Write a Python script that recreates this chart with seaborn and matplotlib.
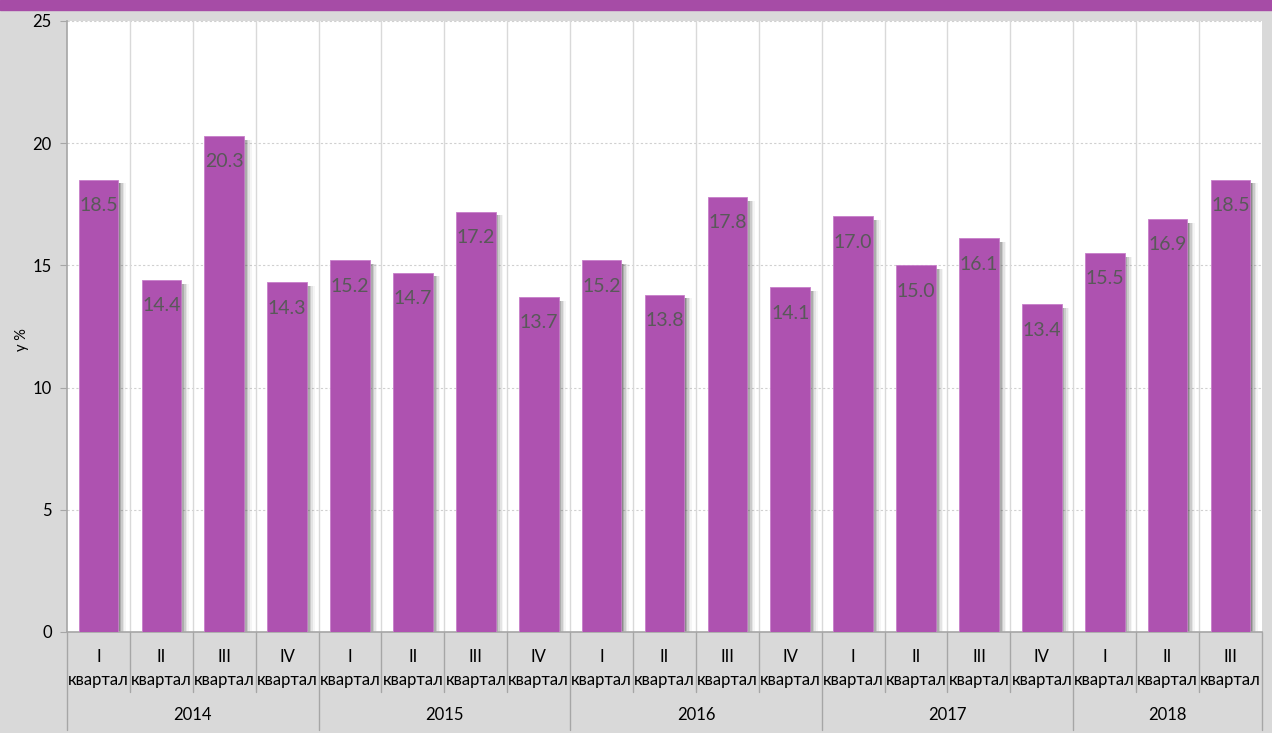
import matplotlib
matplotlib.use("Agg")
import matplotlib.pyplot as plt
import matplotlib.transforms as mtransforms
import seaborn as sns
import pandas as pd
import numpy as np

years = ["2014", "2015", "2016", "2017", "2018"]
quarters_per_year = [4, 4, 4, 4, 3]
quarter_names = ["I", "II", "III", "IV", "I", "II", "III", "IV", "I", "II", "III", "IV",
                 "I", "II", "III", "IV", "I", "II", "III"]
values = [18.5, 14.4, 20.3, 14.3, 15.2, 14.7, 17.2, 13.7, 15.2, 13.8, 17.8, 14.1,
          17.0, 15.0, 16.1, 13.4, 15.5, 16.9, 18.5]
y_ticks = [0, 5, 10, 15, 20, 25]
y_label = "у %"

sns.set_theme(style="white")
plt.rcParams["font.family"] = ["Lato", "DejaVu Sans"]

BAR = "#ae52b0"
BG = "#d9d9d9"
TOPBAND = "#a64ca6"

labels = [f"{q}_{i}" for i, q in enumerate(quarter_names)]
df = pd.DataFrame({"cat": labels, "val": values})

fig = plt.figure(figsize=(12.72, 7.33), dpi=100)
fig.patch.set_facecolor(BG)
fig.patches.append(plt.Rectangle((0, 0.986), 1, 0.014, transform=fig.transFigure,
                                 color=TOPBAND, zorder=0))
ax = fig.add_axes([0.0527, 0.1378, 0.9394, 0.8336])
ax.set_facecolor("white")

n = len(values)
pos = np.arange(n)
# shadow layers
for off, a in [(0.02, 0.30), (0.045, 0.22), (0.07, 0.15), (0.095, 0.09), (0.12, 0.05)]:
    ax.bar(pos + off, np.array(values) - 0.15, width=0.63, bottom=0,
           color="#404040", alpha=a, linewidth=0, zorder=1)

sns.barplot(data=df, x="cat", y="val", color=BAR, saturation=1, width=0.63,
            ax=ax, zorder=3, edgecolor="#c77fc9", linewidth=0.6)

for i, v in enumerate(values):
    ax.text(i, v - 1.05, f"{v:.1f}", ha="center", va="center", fontsize=14,
            color="#595959", zorder=4)

ax.set_xlim(-0.5, n - 0.5)
ax.set_ylim(0, 25)
ax.set_yticks(y_ticks)
ax.set_yticklabels([str(t) for t in y_ticks], fontsize=12, color="#000000")
ax.tick_params(axis="y", length=5, width=0.8, color="#a6a6a6", left=True, pad=6)
ax.set_xticks([])
ax.set_xlabel("")
ax.set_ylabel(y_label, fontsize=10.5, color="#000000")
ax.yaxis.set_label_coords(-0.032, 0.478)

for y in y_ticks[1:]:
    ax.axhline(y, color="#d0d0d0", lw=0.8, ls=(0, (2, 2)), zorder=0)
for b in np.arange(0.5, n - 1, 1.0):
    ax.axvline(b, color="#d9d9d9", lw=1.0, zorder=0)

for s in ["top", "right"]:
    ax.spines[s].set_visible(False)
ax.spines["left"].set_color("#a6a6a6")
ax.spines["bottom"].set_color("#a6a6a6")
ax.spines["left"].set_linewidth(1.2)
ax.spines["bottom"].set_linewidth(1.2)

trans = mtransforms.blended_transform_factory(ax.transData, ax.transAxes)
for i, q in enumerate(quarter_names):
    ax.text(i, -0.041, q, transform=trans, ha="center", va="center", fontsize=12,
            color="#000000", clip_on=False)
    ax.text(i, -0.079, "квартал", transform=trans, ha="center", va="center",
            fontsize=12, color="#000000", clip_on=False)

# separators
bounds = np.arange(-0.5, n, 1.0)
year_bounds = np.concatenate([[0], np.cumsum(quarters_per_year)]) - 0.5
for b in bounds:
    is_year = np.any(np.isclose(year_bounds, b))
    y_end = -0.160 if is_year else -0.098
    ax.plot([b, b], [0, y_end], transform=trans, color="#a6a6a6", lw=1.0,
            clip_on=False, zorder=5)

start = 0
for yname, cnt in zip(years, quarters_per_year):
    center = start + (cnt - 1) / 2
    ax.text(center, -0.136, yname, transform=trans, ha="center", va="center",
            fontsize=12, color="#000000", clip_on=False)
    start += cnt

fig.savefig("out.png", dpi=100, facecolor=BG)
